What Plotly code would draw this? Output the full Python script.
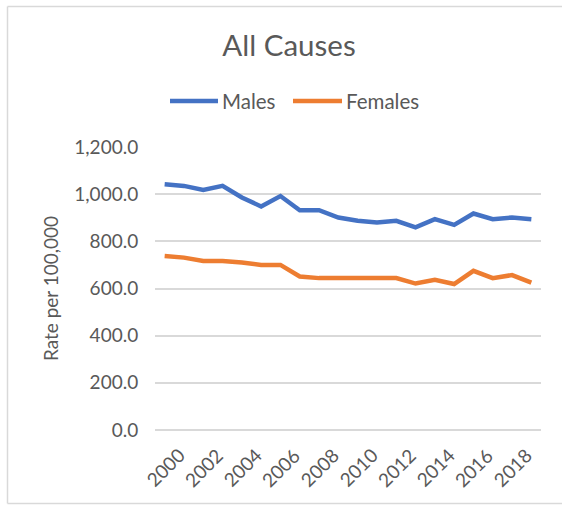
import plotly.graph_objects as go

years = list(range(2000, 2020))
males = [1042, 1035, 1018, 1035, 986, 948, 992, 932, 932, 901,
         887, 880, 887, 859, 894, 870, 918, 894, 901, 894]
females = [738, 731, 717, 717, 710, 700, 700, 651, 644, 644,
           644, 644, 644, 621, 637, 619, 675, 644, 657, 625]
tick_years = list(range(2000, 2019, 2))
y_ticks = [0, 200, 400, 600, 800, 1000, 1200]
series_names = ["Males", "Females"]
series_colors = ["#4472C4", "#ED7D31"]

FONT = "Lato"
GRAY = "#595959"
GRID = "#d9d9d9"

# plot-area geometry in pixels
L, R, T, B = 155, 541, 147, 430
W, H = 562, 506
def px(x):
    return (x - L) / (R - L)
def py(y):
    return (B - y) / (B - T)

fig = go.Figure()
for name, vals, col in zip(series_names, [males, females], series_colors):
    fig.add_trace(go.Scatter(x=years, y=vals, mode="lines", name=name,
                             line=dict(color=col, width=4.5), showlegend=False))

annotations = []
for yr in tick_years:
    annotations.append(dict(x=yr, y=py(467), xref="x", yref="paper", text=str(yr),
                            textangle=-45, showarrow=False, xanchor="center",
                            yanchor="middle",
                            font=dict(family=FONT, size=19, color=GRAY)))

# chart-area border (left, top, bottom edges visible in the crop)
border = dict(color=GRID, width=1.5)
shapes = [
    dict(type="line", xref="paper", yref="paper", x0=px(7.5), x1=px(7.5),
         y0=py(503.5), y1=py(6.5), line=border, layer="below"),
    dict(type="line", xref="paper", yref="paper", x0=px(7.5), x1=px(W),
         y0=py(6.5), y1=py(6.5), line=border, layer="below"),
    dict(type="line", xref="paper", yref="paper", x0=px(7.5), x1=px(W),
         y0=py(503.5), y1=py(503.5), line=border, layer="below"),
]

# manual legend
leg = [(170, 218, 222), (293, 342, 346)]
for (x0, x1, xt), name, col in zip(leg, series_names, series_colors):
    shapes.append(dict(type="line", xref="paper", yref="paper",
                       x0=px(x0), x1=px(x1), y0=py(101), y1=py(101),
                       line=dict(color=col, width=4.5)))
    annotations.append(dict(x=px(xt), y=py(101), xref="paper", yref="paper",
                            text=name, showarrow=False, xanchor="left",
                            yanchor="middle", xshift=-2,
                            font=dict(family=FONT, size=20.5, color=GRAY)))

fig.update_layout(
    width=W, height=H,
    margin=dict(l=L, r=W - R, t=T, b=H - B),
    paper_bgcolor="white", plot_bgcolor="white",
    title=dict(text="All Causes", x=289 / W, xref="container", xanchor="center",
               y=1 - 46 / H, yref="container", yanchor="middle",
               font=dict(family=FONT, size=29.5, color=GRAY)),
    showlegend=False,
    xaxis=dict(range=[1999.5, 2019.5], showgrid=False, zeroline=False,
               showticklabels=False, showline=False, ticks=""),
    yaxis=dict(range=[0, 1200], tickvals=y_ticks, tickformat=",.1f",
               showgrid=True, gridcolor=GRID, gridwidth=1.5,
               zeroline=True, zerolinecolor=GRID, zerolinewidth=1.5,
               showline=False, ticks="outside", ticklen=12,
               tickcolor="rgba(0,0,0,0)",
               tickfont=dict(family=FONT, size=19, color=GRAY),
               title=dict(text="Rate per 100,000", standoff=10,
                          font=dict(family=FONT, size=19, color=GRAY))),
    shapes=shapes,
    annotations=annotations,
)

fig.write_html("out.html", config={"displayModeBar": False})

# remove default page margin so the figure sits at the window origin
with open("out.html", encoding="utf-8") as f:
    html = f.read()
html = html.replace("<head>", "<head><style>html,body{margin:0;padding:0;overflow:hidden}</style>", 1)
with open("out.html", "w", encoding="utf-8") as f:
    f.write(html)
